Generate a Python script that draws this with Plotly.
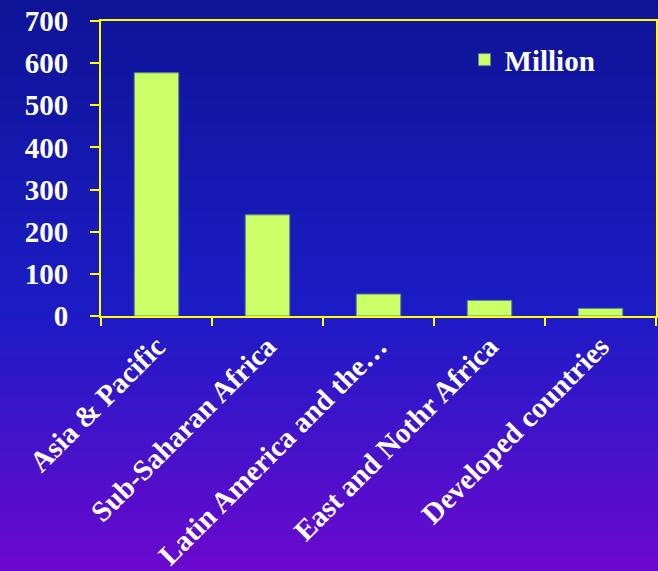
import plotly.graph_objects as go

# Regions and their values (millions)
regions = ["Asia & Pacific", "Sub-Saharan Africa", "Latin America and the\u2026",
           "East and Nothr Africa", "Developed countries"]
million = [577, 240, 52, 37, 18]
y_ticks = [0, 100, 200, 300, 400, 500, 600, 700]

W, H = 658, 571
M_L, M_R, M_T, M_B = 101, 2, 21, 255
FONT = "Liberation Serif"
YELLOW = "#ffff00"

fig = go.Figure()
fig.add_trace(go.Bar(
    x=regions, y=million, name="Million",
    marker=dict(color="#ccff66", line=dict(color="#5f8a8a", width=1)),
    width=0.4,
))

# Vertical background gradient: deep blue at top to violet at bottom
def lerp(a, b, t):
    return tuple(round(a[i] + (b[i] - a[i]) * t) for i in range(3))

stops = [(0.0, (14, 20, 150)), (0.55, (28, 28, 198)), (1.0, (108, 8, 206))]
n = 120
plot_h = H - M_T - M_B
shapes = []
for i in range(n):
    p0 = H * i / n
    p1 = H * (i + 1) / n
    t = (p0 + p1) / 2 / H
    for k in range(len(stops) - 1):
        if stops[k][0] <= t <= stops[k + 1][0]:
            tt = (t - stops[k][0]) / (stops[k + 1][0] - stops[k][0])
            c = lerp(stops[k][1], stops[k + 1][1], tt)
            break
    y0 = (H - M_B - p1 - (2 if i == n - 1 else 0)) / plot_h
    y1 = (H - M_B - p0 + 0.6) / plot_h
    shapes.append(dict(type="rect", xref="paper", yref="paper",
                       x0=-M_L / 555 - 0.01, x1=1.02, y0=y0, y1=y1,
                       fillcolor="rgb(%d,%d,%d)" % c, line=dict(width=0),
                       layer="below"))

fig.update_layout(
    width=W, height=H,
    margin=dict(l=M_L, r=M_R, t=M_T, b=M_B, autoexpand=False),
    paper_bgcolor="rgb(108,8,206)",
    plot_bgcolor="rgba(0,0,0,0)",
    shapes=shapes,
    font=dict(family=FONT, color="white", size=24),
    showlegend=True,
    legend=dict(x=0.655, y=0.955, xanchor="left", yanchor="top",
                bgcolor="rgba(0,0,0,0)",
                font=dict(family=FONT, size=29, color="white", weight="bold")),
    bargap=0.6,
)
fig.update_xaxes(
    type="category", tickangle=-45, tickson="boundaries", automargin=False,
    ticks="outside", ticklen=8, tickcolor=YELLOW, tickwidth=2,
    showline=True, linecolor=YELLOW, linewidth=2, mirror=True,
    showgrid=False, zeroline=False,
    tickfont=dict(family=FONT, size=29, color="white", weight="bold"),
)
fig.update_yaxes(
    range=[0, 700], tickvals=y_ticks, automargin=False,
    ticks="outside", ticklen=9, tickcolor=YELLOW, tickwidth=2,
    showline=True, linecolor=YELLOW, linewidth=2, mirror=True,
    showgrid=False, zeroline=False, ticklabelstandoff=16,
    tickfont=dict(family=FONT, size=29, color="white", weight="bold"),
)

fig.write_html("out.html")
